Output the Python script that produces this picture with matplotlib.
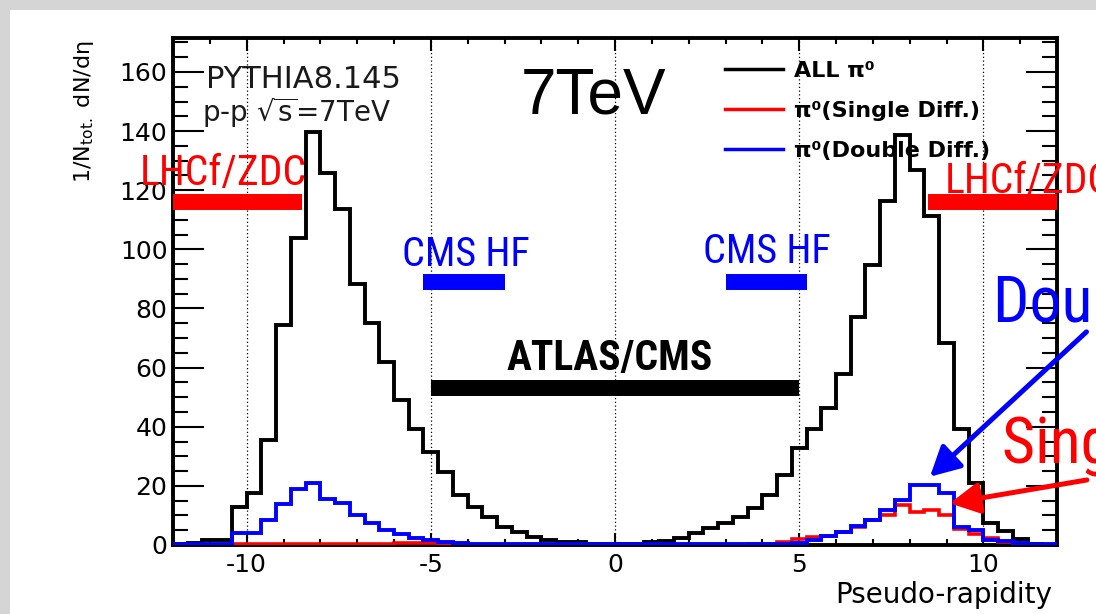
import numpy as np
import matplotlib
matplotlib.use("Agg")
import matplotlib.pyplot as plt
from matplotlib import font_manager
from matplotlib.lines import Line2D
from matplotlib.patches import Rectangle
from matplotlib.ticker import MultipleLocator

# pseudo-rapidity binning: 60 bins of 0.4 from -12 to 12
eta_lo, eta_hi, n_bins = -12.0, 12.0, 60

all_pi0 = [0.3, 0.8, 1.7, 1.7, 12.7, 17.5, 35.5, 74.4, 103.7, 139.7,
           125.7, 113.5, 88.2, 75.0, 62.0, 49.0, 39.4, 31.5, 24.8, 16.9,
           12.9, 9.6, 6.2, 4.5, 2.8, 1.7, 1.1, 1.1, 0.5, 0.3,
           0.3, 0.5, 0.9, 1.5, 2.2, 3.9, 5.6, 7.3, 9.6, 12.4,
           16.9, 23.7, 32.7, 39.4, 46.5, 58.0, 77.2, 94.7, 116.4, 138.6,
           126.8, 111.2, 68.2, 39.4, 20.9, 7.3, 4.8, 2.0, 0.3, 0.0]

single_diff = [0.0, 0.0, 0.0, 0.0, 0.3, 0.3, 0.3, 0.3, 0.3, 0.3,
               0.3, 0.3, 0.3, 0.3, 0.3, 0.7, 0.7, 0.7, 0.4, 0.1,
               0.1, 0.1, 0.1, 0.1, 0.1, 0.1, 0.1, 0.1, 0.1, 0.1,
               0.1, 0.1, 0.1, 0.1, 0.1, 0.1, 0.1, 0.1, 0.1, 0.3,
               0.5, 1.1, 1.9, 2.6, 3.0, 4.5, 6.2, 8.5, 10.2, 13.4,
               11.0, 12.0, 10.2, 5.5, 3.6, 2.5, 1.1, 0.4, 0.1, 0.0]

double_diff = [0.4, 0.4, 0.4, 0.4, 3.9, 3.9, 8.5, 14.0, 18.8, 21.1,
               15.6, 14.3, 10.1, 7.3, 5.1, 3.6, 2.3, 1.8, 1.1, 0.6,
               0.2, 0.2, 0.2, 0.2, 0.2, 0.2, 0.2, 0.2, 0.2, 0.2,
               0.2, 0.2, 0.2, 0.2, 0.2, 0.2, 0.2, 0.2, 0.2, 0.2,
               0.3, 0.3, 0.6, 1.6, 3.0, 4.5, 6.4, 8.6, 11.8, 15.2,
               20.3, 20.3, 17.5, 6.2, 5.1, 1.7, 1.2, 0.8, 0.3, 0.2]

# detector acceptance bars
det_names = ["LHCf/ZDC", "LHCf/ZDC", "CMS HF", "CMS HF", "ATLAS/CMS"]
det_from = [-12.0, 8.5, -5.2, 3.0, -5.0]
det_to = [-8.5, 12.0, -3.0, 5.2, 5.0]
det_level = [116, 116, 89, 89, 53]
det_color = ["#ff0000", "#ff0000", "#0000ff", "#0000ff", "black"]


def pick_font(names):
    for n in names:
        try:
            font_manager.findfont(n, fallback_to_default=False)
            return n
        except Exception:
            pass
    return "DejaVu Sans"


narrow = pick_font(["Liberation Sans Narrow", "Roboto Condensed", "Liberation Sans"])
arial = pick_font(["Liberation Sans", "Arial"])

plt.rcParams["font.family"] = ["DejaVu Sans"]
plt.rcParams["mathtext.fontset"] = "dejavusans"
plt.rcParams["axes.unicode_minus"] = False

W, H = 1096, 614


def fx(x):
    return x / W


def fy(y):
    return 1 - y / H


fig = plt.figure(figsize=(W / 100, H / 100), dpi=100, facecolor="#d5d5d5")
fig.patches.append(Rectangle((fx(10), 0), 1 - fx(10), fy(10), transform=fig.transFigure,
                             facecolor="white", edgecolor="none", zorder=-10))

ax = fig.add_axes([fx(173), fy(545), fx(1057) - fx(173), fy(38) - fy(545)])
edges = np.linspace(eta_lo, eta_hi, n_bins + 1)

ax.stairs(all_pi0, edges, color="black", lw=2.8, zorder=3)
ax.stairs(single_diff, edges, color="#ff0000", lw=2.6, zorder=4)
ax.stairs(double_diff, edges, color="#0000ff", lw=2.8, zorder=5)

for name, a, b, lev, c in zip(det_names, det_from, det_to, det_level, det_color):
    ax.plot([a, b], [lev, lev], color=c, lw=11.5, solid_capstyle="butt", zorder=6, clip_on=False)

ax.set_xlim(eta_lo, eta_hi)
ax.set_ylim(0, 171.5)
ax.xaxis.set_major_locator(MultipleLocator(5))
ax.xaxis.set_minor_locator(MultipleLocator(1))
ax.yaxis.set_major_locator(MultipleLocator(20))
ax.yaxis.set_minor_locator(MultipleLocator(5))
ax.tick_params(which="both", direction="in", top=True, right=True, width=1.5, labelsize=18)
ax.tick_params(axis="y", which="major", length=22, pad=4)
ax.tick_params(axis="y", which="minor", length=11)
ax.tick_params(axis="x", which="major", length=9, pad=6)
ax.tick_params(axis="x", which="minor", length=4.5)
for s in ax.spines.values():
    s.set_linewidth(2.8)
ax.grid(axis="x", which="major", color="black", ls=(0, (1, 2)), lw=0.9)

fig.text(fx(1052), fy(603), "Pseudo-rapidity", ha="right", va="baseline", fontsize=20)
fig.text(fx(84), fy(40), "1/N$_{\\mathrm{tot.}}$ dN/dη", rotation=90, ha="center", va="top", fontsize=16)

fig.text(fx(206), fy(88), "PYTHIA8.145", fontsize=22, color="#1a1a1a")
fig.text(fx(202), fy(122), "p-p $\\sqrt{\\mathrm{s}}$=7TeV", fontsize=20, color="#1a1a1a")
fig.text(fx(521), fy(113), "7TeV", fontsize=46, family=arial)

handles = [Line2D([], [], color="black", lw=2.5),
           Line2D([], [], color="#ff0000", lw=2.5),
           Line2D([], [], color="#0000ff", lw=2.5)]
ax.legend(handles, ["ALL π⁰", "π⁰(Single Diff.)", "π⁰(Double Diff.)"],
          loc="upper left", bbox_to_anchor=(0.6244, 0.955), frameon=False,
          borderpad=0, borderaxespad=0, handlelength=2.6, handletextpad=0.5,
          labelspacing=0.9, prop=dict(size=16, weight="bold"))

# detector labels
fig.text(fx(140), fy(185), "LHCf/ZDC", fontsize=30, color="#ff0000", family=narrow)
fig.text(fx(945), fy(193), "LHCf/ZDC", fontsize=30, color="#ff0000", family=narrow)
fig.text(fx(402), fy(266), "CMS HF", fontsize=29, color="#0000ff", family=narrow)
fig.text(fx(703), fy(263), "CMS HF", fontsize=29, color="#0000ff", family=narrow)
fig.text(fx(507), fy(370), "ATLAS/CMS", fontsize=30, color="black", family=narrow, weight="bold")

fig.text(fx(993), fy(322), "Double Diff.", fontsize=46, color="#0000ff", family=narrow)
fig.text(fx(1002), fy(463), "Single Diff.", fontsize=46, color="#ff0000", family=narrow)

ax.annotate("", xy=(8.55, 23.1), xytext=(12.8, 72.1),
            arrowprops=dict(arrowstyle="-|>,head_length=1.8,head_width=0.95", color="#0000ff",
                            lw=3.6, shrinkA=0, shrinkB=0), annotation_clip=False, zorder=7)
ax.annotate("", xy=(9.09, 14.1), xytext=(12.81, 22.0),
            arrowprops=dict(arrowstyle="-|>,head_length=1.8,head_width=0.95", color="#ff0000",
                            lw=3.6, shrinkA=0, shrinkB=0), annotation_clip=False, zorder=7)

fig.savefig("out.png", dpi=100, facecolor=fig.get_facecolor())
